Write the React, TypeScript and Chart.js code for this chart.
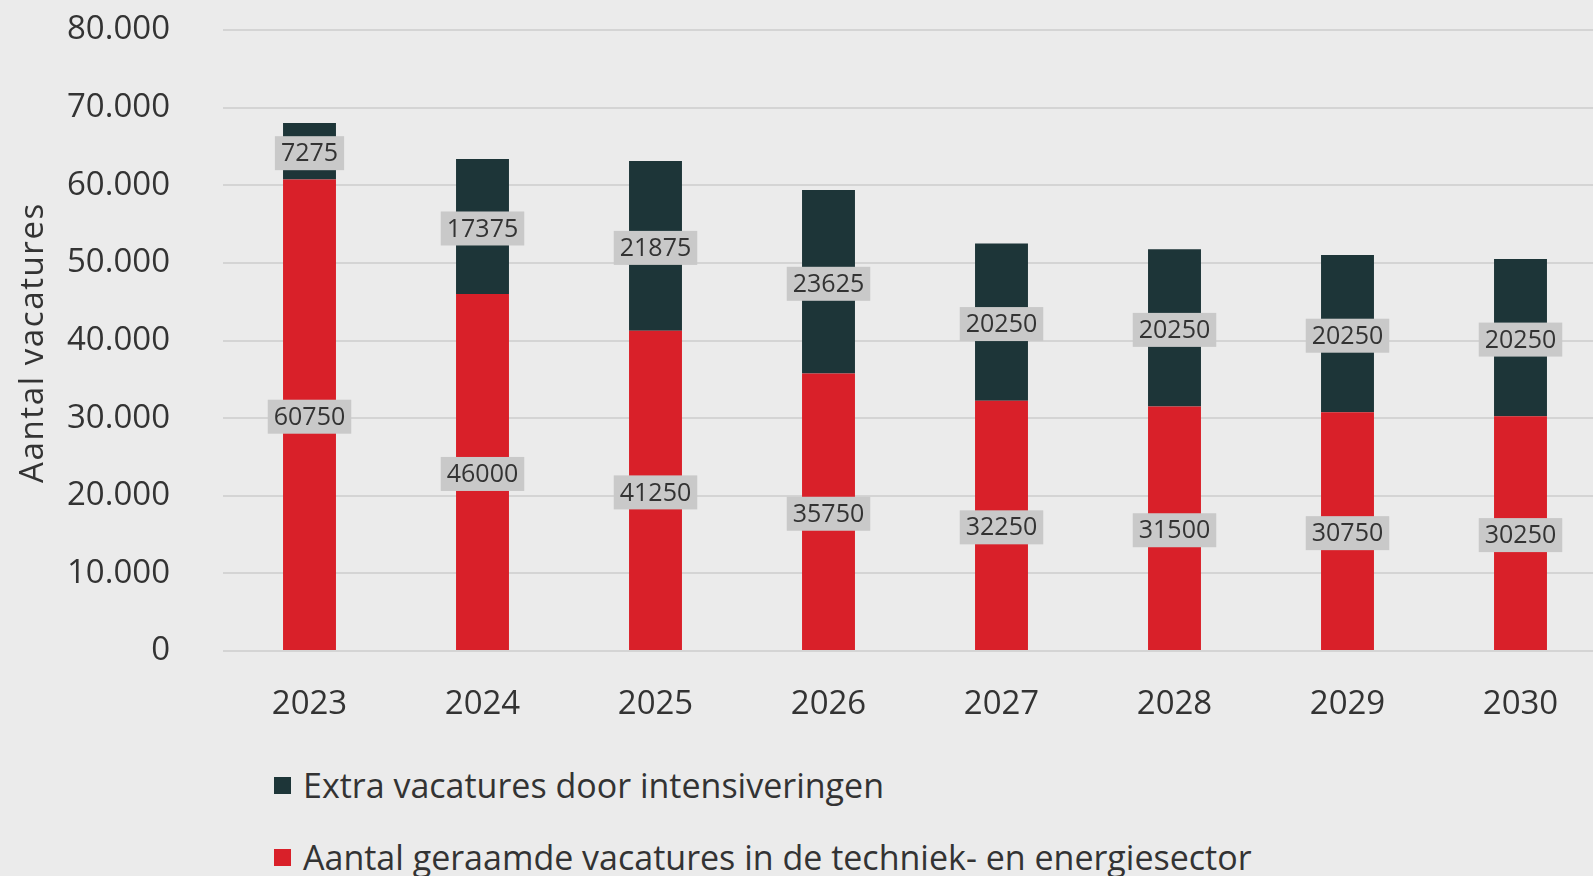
import React, { useEffect, useRef } from 'react';
import { Chart, registerables } from 'chart.js';

Chart.register(...registerables);

const years = ['2023', '2024', '2025', '2026', '2027', '2028', '2029', '2030'];
const geraamdeVacatures = [60750, 46000, 41250, 35750, 32250, 31500, 30750, 30250];
const extraVacatures = [7275, 17375, 21875, 23625, 20250, 20250, 20250, 20250];
const seriesNames = [
  'Extra vacatures door intensiveringen',
  'Aantal geraamde vacatures in de techniek- en energiesector',
];
const yAxisTitle = 'Aantal vacatures';
const yMax = 80000;
const yStep = 10000;

const RED = '#d92029';
const DARK = '#1d3538';
const BG = '#ebebeb';
const TEXT = '#333333';
const FONT = '"Open Sans", "Noto Sans", sans-serif';

const fmt = (v: number) => Math.round(v).toString().replace(/\B(?=(\d{3})+(?!\d))/g, '.');

const boxLabels = {
  id: 'boxLabels',
  afterDatasetsDraw(chart: any) {
    const ctx = chart.ctx;
    ctx.save();
    ctx.font = `25px ${FONT}`;
    ctx.textAlign = 'center';
    ctx.textBaseline = 'middle';
    chart.data.datasets.forEach((ds: any, di: number) => {
      const meta = chart.getDatasetMeta(di);
      meta.data.forEach((bar: any, i: number) => {
        const { x, y, base } = bar.getProps(['x', 'y', 'base'], true);
        const cy = (y + base) / 2 + 2;
        const text = String(ds.data[i]);
        const w = ctx.measureText(text).width + 12;
        const h = 34;
        ctx.fillStyle = '#c9c9c9';
        ctx.fillRect(x - w / 2, cy - h / 2, w, h);
        ctx.fillStyle = TEXT;
        ctx.fillText(text, x, cy + 1);
      });
    });
    ctx.restore();
  },
};

const axisTitle = {
  id: 'axisTitle',
  afterDraw(chart: any) {
    const ctx = chart.ctx;
    const area = chart.chartArea;
    ctx.save();
    ctx.font = `33px ${FONT}`;
    try { (ctx as any).letterSpacing = '1.6px'; } catch (e) {}
    ctx.fillStyle = TEXT;
    ctx.textAlign = 'center';
    ctx.textBaseline = 'middle';
    ctx.translate(34, (area.top + area.bottom) / 2 + 2);
    ctx.rotate(-Math.PI / 2);
    ctx.fillText(yAxisTitle, 0, 0);
    ctx.restore();
  },
};

export default function App() {
  const ref = useRef<HTMLCanvasElement | null>(null);

  useEffect(() => {
    if (!ref.current) return;
    const chart = new Chart(ref.current, {
      type: 'bar',
      data: {
        labels: years,
        datasets: [
          { label: seriesNames[1], data: geraamdeVacatures, backgroundColor: RED, stack: 's' },
          { label: seriesNames[0], data: extraVacatures, backgroundColor: DARK, stack: 's' },
        ],
      },
      options: {
        responsive: false,
        animation: false,
        layout: { padding: { top: 30, left: 0, right: 0, bottom: 0 } },
        datasets: { bar: { categoryPercentage: 1, barPercentage: 0.306 } },
        plugins: { legend: { display: false }, tooltip: { enabled: false } },
        scales: {
          x: {
            stacked: true,
            grid: { display: false, drawTicks: false },
            border: { display: false },
            ticks: { color: TEXT, font: { family: FONT, size: 33 }, padding: 34, maxRotation: 0 },
            afterFit: (s: any) => { s.height = 740 - 651; },
          },
          y: {
            stacked: true,
            min: 0,
            max: yMax,
            grid: { color: '#d4d4d4', lineWidth: 2, drawTicks: true, tickLength: 50, tickColor: 'rgba(0,0,0,0)' },
            border: { display: false },
            ticks: {
              stepSize: yStep,
              color: TEXT,
              font: { family: FONT, size: 33 },
              padding: 3,
              callback: (v: any) => fmt(Number(v)),
            },
            afterFit: (s: any) => { s.width = 223; },
          },
        },
      },
      plugins: [boxLabels, axisTitle],
    });
    return () => chart.destroy();
  }, []);

  const legendRow = (color: string, text: string, top: number) => (
    <div style={{ position: 'absolute', left: 274, top: top - 22, height: 44, display: 'flex', alignItems: 'center' }}>
      <div style={{ width: 17, height: 17, background: color, marginRight: 12 }} />
      <span style={{ fontFamily: FONT, fontSize: 34, color: TEXT, whiteSpace: 'nowrap' }}>{text}</span>
    </div>
  );

  return (
    <div style={{ position: 'fixed', left: 0, top: 0, width: 1593, height: 876, overflow: 'hidden', background: BG }}>
      <div style={{ position: 'absolute', left: 0, top: 0, width: 1607, height: 740 }}>
        <canvas ref={ref} width={1607} height={740} style={{ width: 1607, height: 740, display: 'block' }} />
      </div>
      {legendRow(DARK, seriesNames[0], 785)}
      {legendRow(RED, seriesNames[1], 857)}
    </div>
  );
}
